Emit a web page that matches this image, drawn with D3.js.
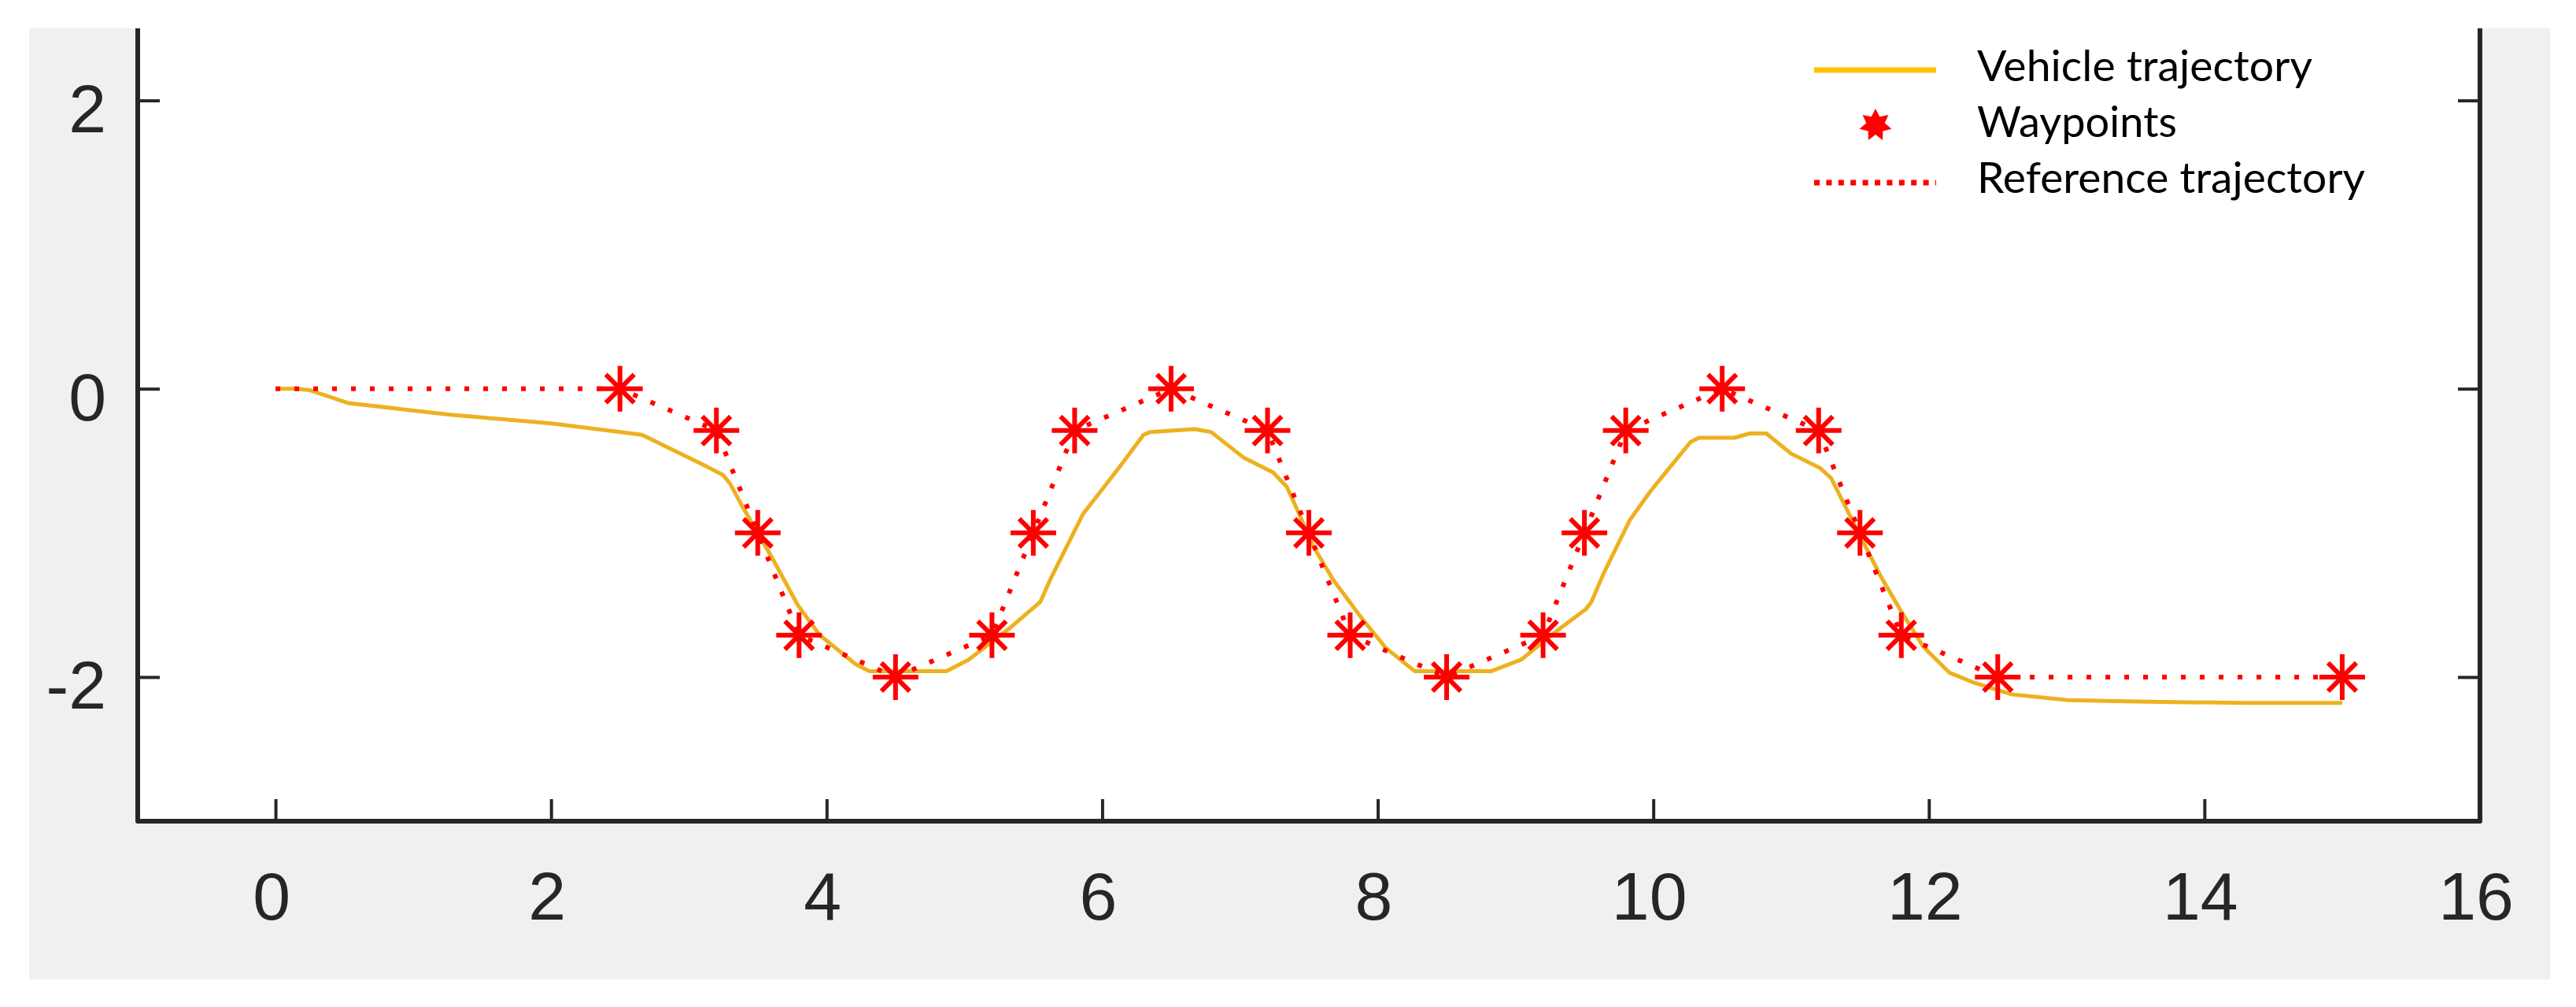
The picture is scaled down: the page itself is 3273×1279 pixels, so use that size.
<!DOCTYPE html>
<meta charset="utf-8">
<html lang="en">
<head>
    <title>Vehicle trajectory</title>
    <script src="https://d3js.org/d3.v7.min.js"></script>
    <style>
        body { margin: 0; background: #ffffff; }
        svg { display: block; }
    </style>
</head>
<body>
<div id="my_dataviz"></div>
<script>

// ---- data ----
const xTicks = [0, 2, 4, 6, 8, 10, 12, 14, 16];
const yTicks = [-2, 0, 2];

const waypointX = [2.5, 3.2, 3.5, 3.8, 4.5, 5.2, 5.5, 5.8, 6.5, 7.2, 7.5, 7.8, 8.5,
                   9.2, 9.5, 9.8, 10.5, 11.2, 11.5, 11.8, 12.5, 15];
const waypointY = [0, -0.29, -1, -1.71, -2, -1.71, -1, -0.29, 0, -0.29, -1, -1.71, -2,
                   -1.71, -1, -0.29, 0, -0.29, -1, -1.71, -2, -2];

// reference trajectory = start point followed by the waypoints
const referenceX = [0, 2.5, 3.2, 3.5, 3.8, 4.5, 5.2, 5.5, 5.8, 6.5, 7.2, 7.5, 7.8, 8.5,
                    9.2, 9.5, 9.8, 10.5, 11.2, 11.5, 11.8, 12.5, 15];
const referenceY = [0, 0, -0.29, -1, -1.71, -2, -1.71, -1, -0.29, 0, -0.29, -1, -1.71, -2,
                    -1.71, -1, -0.29, 0, -0.29, -1, -1.71, -2, -2];

const vehicleX = [0, 0.15, 0.25, 0.53, 1.27, 2.0, 2.66, 3.13, 3.25, 3.3, 3.39, 3.5, 3.62, 3.79,
                  3.95, 4.21, 4.31, 4.87, 5.03, 5.33, 5.55, 5.63, 5.86, 6.12, 6.3, 6.35, 6.67,
                  6.79, 7.03, 7.24, 7.34, 7.43, 7.53, 7.68, 7.89, 8.06, 8.27, 8.82, 9.04, 9.3,
                  9.51, 9.55, 9.64, 9.83, 9.98, 10.15, 10.27, 10.33, 10.59, 10.7, 10.82, 11.0,
                  11.21, 11.29, 11.38, 11.5, 11.65, 11.79, 11.96, 12.15, 12.33, 12.6, 13.01,
                  13.5, 14.28, 15];
const vehicleY = [0, 0, -0.01, -0.1, -0.18, -0.24, -0.32, -0.54, -0.6, -0.66, -0.82, -1.0, -1.2, -1.5,
                  -1.71, -1.91, -1.96, -1.96, -1.88, -1.66, -1.48, -1.31, -0.87, -0.55, -0.32, -0.3, -0.28,
                  -0.3, -0.48, -0.58, -0.68, -0.87, -1.09, -1.33, -1.6, -1.8, -1.96, -1.96, -1.88, -1.68,
                  -1.53, -1.48, -1.28, -0.91, -0.71, -0.51, -0.37, -0.34, -0.34, -0.31, -0.31, -0.45,
                  -0.55, -0.62, -0.79, -1.02, -1.3, -1.53, -1.79, -1.97, -2.04, -2.12, -2.16,
                  -2.17, -2.18, -2.18];

const legendLabels = ["Vehicle trajectory", "Waypoints", "Reference trajectory"];

// ---- layout ----
var W = 3273, H = 1279;
var plot = {left: 175, right: 3151, top: 36, bottom: 1043};
var axisColor = "#262626";

var svg = d3.select("#my_dataviz")
  .append("svg")
    .attr("width", W)
    .attr("height", H);

// grey figure background
svg.append("rect")
    .attr("x", 37).attr("y", 36)
    .attr("width", 3240 - 37).attr("height", 1244 - 36)
    .attr("fill", "#f0f0f0");

// white axes area
svg.append("rect")
    .attr("x", plot.left).attr("y", 0)
    .attr("width", plot.right - plot.left).attr("height", plot.bottom)
    .attr("fill", "#ffffff");

var x = d3.scaleLinear().domain([-1, 16]).range([plot.left, plot.right]);
var y = d3.scaleLinear().domain([-3, 2.5]).range([plot.bottom, plot.top]);

// ticks (pointing inward, MATLAB style)
var tickLen = 28;
svg.append("g").attr("transform", "translate(0," + plot.bottom + ")")
  .call(d3.axisBottom(x).tickValues(xTicks).tickSizeInner(-tickLen).tickSizeOuter(0).tickFormat(""))
  .call(g => g.select(".domain").remove())
  .call(g => g.selectAll("line").attr("stroke", axisColor).attr("stroke-width", 4));

svg.append("g").attr("transform", "translate(" + plot.left + ",0)")
  .call(d3.axisLeft(y).tickValues(yTicks).tickSizeInner(-tickLen).tickSizeOuter(0).tickFormat(""))
  .call(g => g.select(".domain").remove())
  .call(g => g.selectAll("line").attr("stroke", axisColor).attr("stroke-width", 4));

svg.append("g").attr("transform", "translate(" + plot.right + ",0)")
  .call(d3.axisRight(y).tickValues(yTicks).tickSizeInner(-tickLen).tickSizeOuter(0).tickFormat(""))
  .call(g => g.select(".domain").remove())
  .call(g => g.selectAll("line").attr("stroke", axisColor).attr("stroke-width", 4));

// tick labels
svg.append("g").selectAll("text")
  .data(xTicks).enter().append("text")
    .attr("x", d => x(d) - 5)
    .attr("y", 1168)
    .attr("text-anchor", "middle")
    .style("font-family", "'Liberation Sans', Arial, Helvetica, sans-serif")
    .style("font-size", "86px")
    .attr("fill", axisColor)
    .text(d => d);

svg.append("g").selectAll("text")
  .data(yTicks).enter().append("text")
    .attr("x", 135)
    .attr("y", d => y(d) + 40)
    .attr("text-anchor", "end")
    .style("font-family", "'Liberation Sans', Arial, Helvetica, sans-serif")
    .style("font-size", "86px")
    .attr("fill", axisColor)
    .text(d => d);

// spines (left, right, bottom; the top edge is cropped off)
svg.append("path")
    .attr("d", "M" + plot.left + "," + plot.top + "V" + plot.bottom + "H" + plot.right + "V" + plot.top)
    .attr("fill", "none")
    .attr("stroke", axisColor)
    .attr("stroke-width", 6)
    .attr("stroke-linejoin", "round");

// vehicle trajectory
var vehicle = vehicleX.map((d, i) => [d, vehicleY[i]]);
var line = d3.line().x(d => x(d[0])).y(d => y(d[1]));

svg.append("path")
    .datum(vehicle)
    .attr("d", line)
    .attr("fill", "none")
    .attr("stroke", "#EDB120")
    .attr("stroke-width", 5)
    .attr("stroke-linejoin", "round");

// reference trajectory (dotted)
var reference = referenceX.map((d, i) => [d, referenceY[i]]);
svg.append("path")
    .datum(reference)
    .attr("d", line)
    .attr("fill", "none")
    .attr("stroke", "#ff0000")
    .attr("stroke-width", 6)
    .attr("stroke-dasharray", "6,18");

// waypoints as asterisks
var star = "M-29,0H29M0,-29V29M-18,-18L18,18M-18,18L18,-18";
svg.append("g").selectAll("path")
  .data(waypointX.map((d, i) => [d, waypointY[i]]))
  .enter().append("path")
    .attr("transform", d => "translate(" + x(d[0]) + "," + y(d[1]) + ")")
    .attr("d", star)
    .attr("fill", "none")
    .attr("stroke", "#ff0000")
    .attr("stroke-width", 6);

// ---- legend ----
var legend = svg.append("g");
var legendText = {x: 2512, baselines: [103, 174, 245], widths: [426, 254, 493]};

legend.append("line")
    .attr("x1", 2305).attr("x2", 2460).attr("y1", 89).attr("y2", 89)
    .attr("stroke", "#FFC000").attr("stroke-width", 7);

// seven-pointed filled star
var starPts = d3.range(14).map(function(i) {
    var r = (i % 2 === 0) ? 21 : 12;
    var a = -Math.PI / 2 + i * Math.PI / 7;
    return [r * Math.cos(a), r * Math.sin(a)];
});
legend.append("polygon")
    .attr("transform", "translate(2383,159)")
    .attr("points", starPts.map(p => p.join(",")).join(" "))
    .attr("fill", "#ff0000");

legend.append("line")
    .attr("x1", 2305).attr("x2", 2460).attr("y1", 232).attr("y2", 232)
    .attr("stroke", "#ff0000").attr("stroke-width", 7)
    .attr("stroke-dasharray", "7,8.4");

legend.selectAll("text")
  .data(legendLabels).enter().append("text")
    .attr("x", legendText.x)
    .attr("y", (d, i) => legendText.baselines[i])
    .attr("textLength", (d, i) => legendText.widths[i])
    .attr("lengthAdjust", "spacingAndGlyphs")
    .style("font-family", "Lato, 'Open Sans', sans-serif")
    .style("font-size", "55px")
    .attr("fill", "#000000")
    .text(d => d);

</script>
</body>
</html>
